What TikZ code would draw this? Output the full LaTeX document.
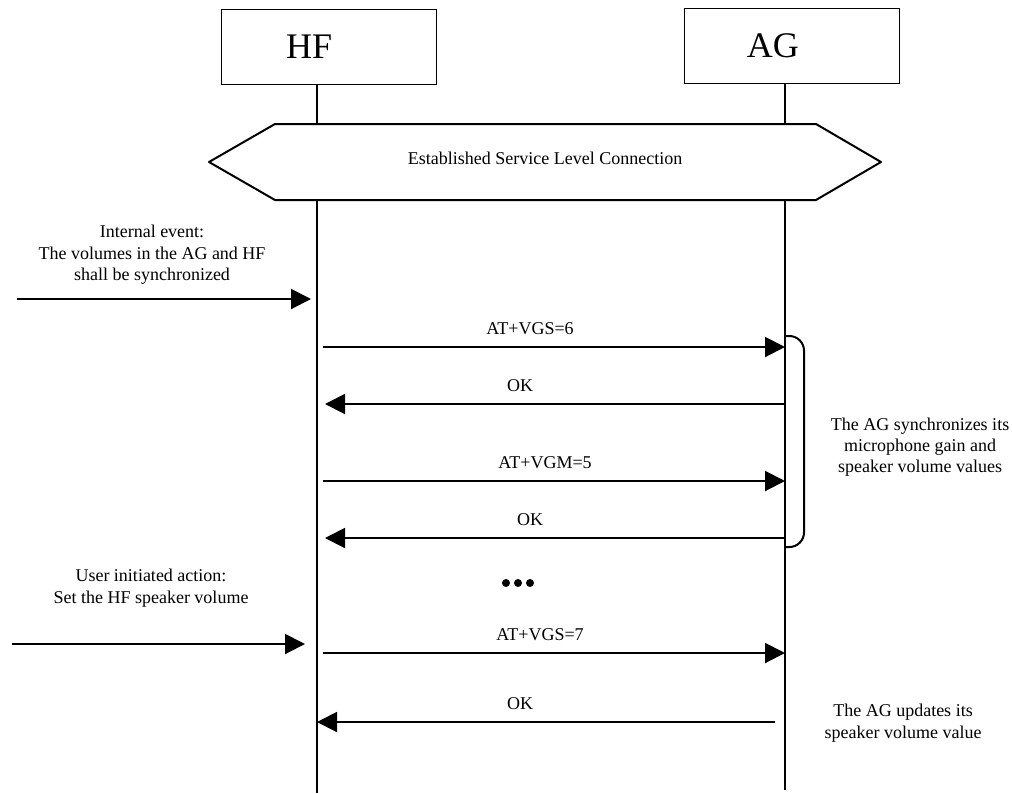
\documentclass[tikz,border=0pt]{standalone}
\usepackage{fontspec}
\setmainfont{Liberation Serif}
\usetikzlibrary{arrows.meta}

\tikzset{
  entity/.style={draw, line width=0.75pt, minimum width=161.25pt, minimum height=56.25pt,
    inner sep=0pt, font=\fontsize{27pt}{32pt}\selectfont},
  life/.style={line width=1.5pt},
  msg/.style={-{Triangle[length=15pt,width=15pt]}, line width=1.5pt},
  lbl/.style={inner sep=0pt, align=center, font=\fontsize{13.5pt}{16pt}\selectfont},
}

\begin{document}
\begin{tikzpicture}[x=0.75pt,y=-0.75pt]
\useasboundingbox (0,0) rectangle (1012,793);

% the two entities and their lifelines
\node[entity](hf) at (328.5,46.5) {HF\hspace*{29pt}};
\node[entity](ag) at (791.5,45.5) {AG\hspace*{28pt}};
\coordinate (hfl) at (317,0);
\coordinate (agl) at (785,0);

% service level connection
\draw[line width=1.5pt,line join=round] (209,162) -- (275,124) -- (816,124) -- (881,162)
  -- (816,200) -- (275,200) -- cycle;
\node[lbl](slc) at (545,158) {Established Service Level Connection};

\draw[life] (hf.south -| hfl) -- (hfl |- 0,124);
\draw[life] (hfl |- 0,200) -- (hfl |- 0,793);
\draw[life] (ag.south -| agl) -- (agl |- 0,124);
\draw[life] (agl |- 0,200) -- (agl |- 0,790);

% external triggers on the HF side
\node[lbl](ev1) at (152,255) {Internal event:\\The volumes in the AG and HF\\shall be synchronized};
\coordinate (ev1a) at (17,299);
\coordinate (ev1b) at (311,299);
\draw[msg] (ev1a) -- (ev1b);

\node[lbl](ev2) at (151,588) {User initiated action:\\Set the HF speaker volume};
\coordinate (ev2a) at (12,644);
\coordinate (ev2b) at (305,644);
\draw[msg] (ev2a) -- (ev2b);

% volume synchronisation
\coordinate (r1) at (0,347);
\coordinate (r2) at (0,404);
\coordinate (r3) at (0,481);
\coordinate (r4) at (0,538);
\node[lbl](m1) at (530,329) {AT+VGS=6};
\draw[msg] ([xshift=4.5pt]hfl |- r1) -- (agl |- r1);
\node[lbl](m2) at (520,386) {OK};
\draw[msg] (agl |- r2) -- ([xshift=6pt]hfl |- r2);
\node[lbl](m3) at (545,463) {AT+VGM=5};
\draw[msg] ([xshift=4.5pt]hfl |- r3) -- (agl |- r3);
\node[lbl](m4) at (530,520) {OK};
\draw[msg] (agl |- r4) -- ([xshift=6pt]hfl |- r4);

\draw[line width=1.5pt,rounded corners=11pt] (agl |- 0,336) -- (804,336) -- (804,547) -- (agl |- 0,547);
\node[lbl](sync) at (920,447) {The AG synchronizes its\\microphone gain and\\speaker volume values};

\foreach \i in {-1,0,1}
  \fill (518+12*\i,583) circle (4);

% speaker volume update
\coordinate (r5) at (0,653);
\coordinate (r6) at (0,722);
\node[lbl](m5) at (540,635) {AT+VGS=7};
\draw[msg] ([xshift=4.5pt]hfl |- r5) -- (agl |- r5);
\node[lbl](m6) at (520,704) {OK};
\draw[msg] ([xshift=-7.5pt]agl |- r6) -- (hfl |- r6);
\node[lbl](upd) at (903,723) {The AG updates its\\speaker volume value};
\end{tikzpicture}
\end{document}
